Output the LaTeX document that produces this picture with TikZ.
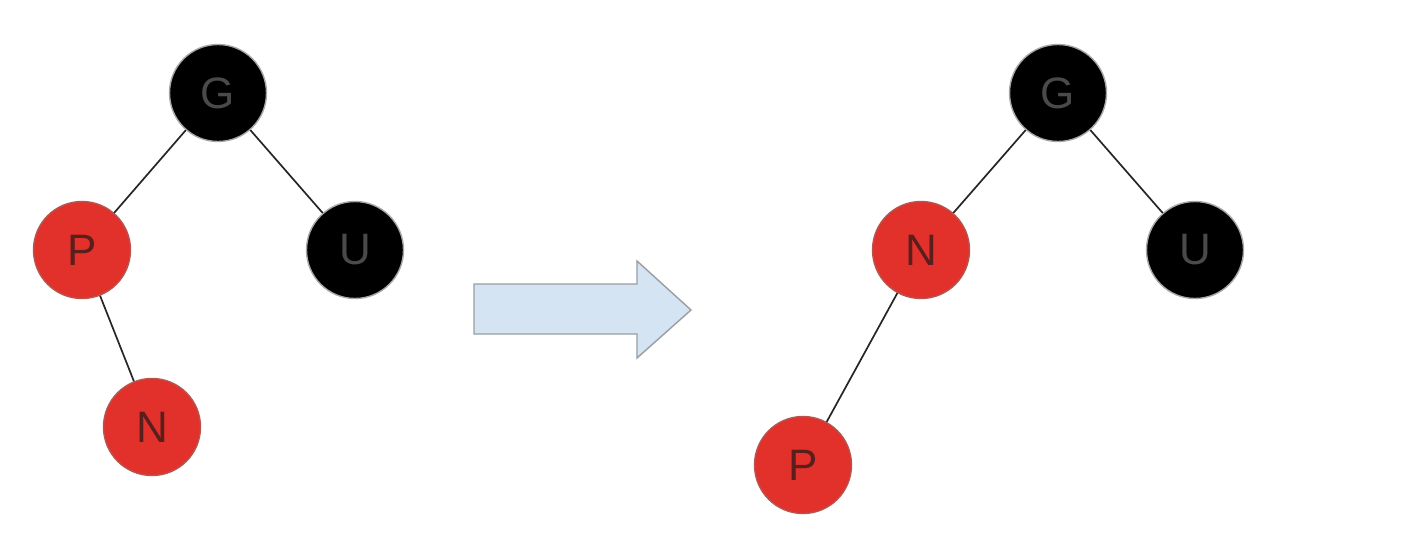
\documentclass[tikz,border=0pt]{standalone}
\usepackage{fontspec}
\setmainfont{Liberation Sans}
\definecolor{nred}{HTML}{E2312A}
\definecolor{nredtext}{HTML}{5A1E1C}
\definecolor{nblacktext}{HTML}{4A4A4A}
\definecolor{arrfill}{HTML}{D4E4F2}
\definecolor{arrdraw}{HTML}{9A9EA2}
\begin{document}
\begin{tikzpicture}[x=1pt,y=-1pt,
  rbnode/.style={circle,minimum size=97pt,inner sep=0pt,line width=1.4pt,font=\fontsize{44}{48}\selectfont},
  rednode/.style={rbnode,fill=nred,draw=nred!55!gray,text=nredtext},
  blacknode/.style={rbnode,fill=black,draw=gray!70,text=nblacktext},
  edge/.style={draw=black!85,line width=1.7pt},
  bigarrow/.style={fill=arrfill,draw=arrdraw,line width=1.4pt,line join=miter}]
\useasboundingbox (0,0) rectangle (1404,554);
% left tree
\node[blacknode] (lg) at (218,93) {G};
\node[rednode] (lp) at (82,250) {P};
\node[blacknode] (lu) at (355,250) {U};
\node[rednode] (ln) at (152,427) {N};
\draw[edge] (lg) -- (lp);
\draw[edge] (lg) -- (lu);
\draw[edge] (lp) -- (ln);
% right tree
\node[blacknode] (rg) at (1058,93) {G};
\node[rednode] (rn) at (921,250) {N};
\node[blacknode] (ru) at (1195,250) {U};
\node[rednode] (rp) at (803,465) {P};
\draw[edge] (rg) -- (rn);
\draw[edge] (rg) -- (ru);
\draw[edge] (rn) -- (rp);
% block arrow
\draw[bigarrow] (474,284) -- (637,284) -- (637,261) -- (691,310) -- (637,358) -- (637,334) -- (474,334) -- cycle;
\end{tikzpicture}
\end{document}
